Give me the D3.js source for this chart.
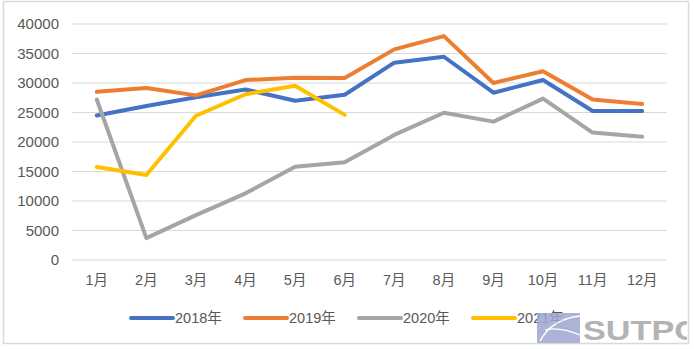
<!DOCTYPE html>
<html>
<head>
<meta charset="utf-8">
<script src="https://cdn.jsdelivr.net/npm/d3@7"></script>
<style>
  body { margin: 0; background: #fff; }
  text { font-family: "Liberation Sans", "Noto Sans CJK SC", sans-serif; }
</style>
</head>
<body>
<div id="chart"></div>
<script>
// months and series values
const months = ["1月", "2月", "3月", "4月", "5月", "6月", "7月", "8月", "9月", "10月", "11月", "12月"];
const seriesNames = ["2018年", "2019年", "2020年", "2021年"];
const colors = ["#4472C4", "#ED7D31", "#A5A5A5", "#FFC000"];
const v2018 = [24500, 26100, 27600, 28900, 27000, 28000, 33450, 34450, 28350, 30500, 25250, 25250];
const v2019 = [28500, 29150, 27900, 30500, 30900, 30850, 35700, 37950, 30000, 32000, 27200, 26450];
const v2020 = [27200, 3700, 7600, 11300, 15800, 16550, 21200, 24950, 23450, 27350, 21600, 20900];
const v2021 = [15750, 14400, 24450, 28100, 29550, 24600];
const yTicks = [0, 5000, 10000, 15000, 20000, 25000, 30000, 35000, 40000];

const W = 694, H = 349;
const margin = { left: 72, right: 27, top: 24, bottom: 89 };

const svg = d3.select("#chart").append("svg")
  .attr("width", W)
  .attr("height", H);

// chart frame
svg.append("rect")
  .attr("x", 3.5).attr("y", 1.5)
  .attr("width", 685).attr("height", 342)
  .attr("fill", "#fff")
  .attr("stroke", "#D9D9D9")
  .attr("stroke-width", 1.5);

const x = d3.scaleBand()
  .domain(months)
  .range([margin.left, W - margin.right]);

const y = d3.scaleLinear()
  .domain([0, 40000])
  .range([H - margin.bottom, margin.top]);

// gridlines
svg.append("g")
  .selectAll("line")
  .data(yTicks)
  .join("line")
  .attr("x1", margin.left)
  .attr("x2", W - margin.right)
  .attr("y1", d => y(d))
  .attr("y2", d => y(d))
  .attr("stroke", "#D9D9D9")
  .attr("stroke-width", 1.2);

// y axis labels
const yAxis = d3.axisLeft(y).tickValues(yTicks).tickSize(0).tickPadding(13).tickFormat(d3.format("d"));
const gy = svg.append("g")
  .attr("transform", `translate(${margin.left},0)`)
  .call(yAxis);
gy.select(".domain").remove();
gy.selectAll("text")
  .attr("fill", "#595959")
  .style("font-size", "15px");

// x axis labels
const xAxis = d3.axisBottom(x).tickSize(0).tickPadding(15);
const gx = svg.append("g")
  .attr("transform", `translate(0,${H - margin.bottom})`)
  .call(xAxis);
gx.select(".domain").remove();
gx.selectAll("text")
  .attr("fill", "#595959")
  .style("font-size", "14.5px");

// lines
const allSeries = [v2018, v2019, v2020, v2021];
const line = d3.line()
  .x((d, i) => x(months[i]) + x.bandwidth() / 2)
  .y(d => y(d));

svg.append("g")
  .selectAll("path")
  .data(allSeries)
  .join("path")
  .attr("d", d => line(d))
  .attr("fill", "none")
  .attr("stroke", (d, i) => colors[i])
  .attr("stroke-width", 4)
  .attr("stroke-linejoin", "round")
  .attr("stroke-linecap", "round");

// legend
const legendX = [131, 245, 359, 473];
const legend = svg.append("g")
  .selectAll("g")
  .data(seriesNames)
  .join("g")
  .attr("transform", (d, i) => `translate(${legendX[i]},318)`);

legend.append("line")
  .attr("x1", 0).attr("x2", 42)
  .attr("stroke", (d, i) => colors[i])
  .attr("stroke-width", 4)
  .attr("stroke-linecap", "round");

legend.append("text")
  .attr("x", 44)
  .attr("dy", "0.35em")
  .attr("fill", "#595959")
  .style("font-size", "14.5px")
  .text(d => d);

// watermark
svg.append("clipPath").attr("id", "wmclip")
  .append("rect").attr("x", 0).attr("y", 0).attr("width", 687).attr("height", H);
const wm = svg.append("g").attr("clip-path", "url(#wmclip)").attr("opacity", 0.85);
wm.append("rect")
  .attr("x", 537).attr("y", 313)
  .attr("width", 43).attr("height", 30)
  .attr("fill", "#9DA8D0");
wm.append("path")
  .attr("d", "M540,341 C548,326 562,318 580,316")
  .attr("fill", "none").attr("stroke", "#fff").attr("stroke-width", 1.5);
wm.append("path")
  .attr("d", "M545,330 C556,327 568,330 580,335")
  .attr("fill", "none").attr("stroke", "#fff").attr("stroke-width", 1.2);
wm.append("text")
  .attr("x", 583).attr("y", 340)
  .attr("fill", "#A6A6A6")
  .attr("textLength", 116)
  .attr("lengthAdjust", "spacingAndGlyphs")
  .style("font-size", "28px")
  .style("font-weight", "bold")
  .style("font-family", "'Liberation Sans', Arial, sans-serif")
  .text("SUTPC");
</script>
</body>
</html>
